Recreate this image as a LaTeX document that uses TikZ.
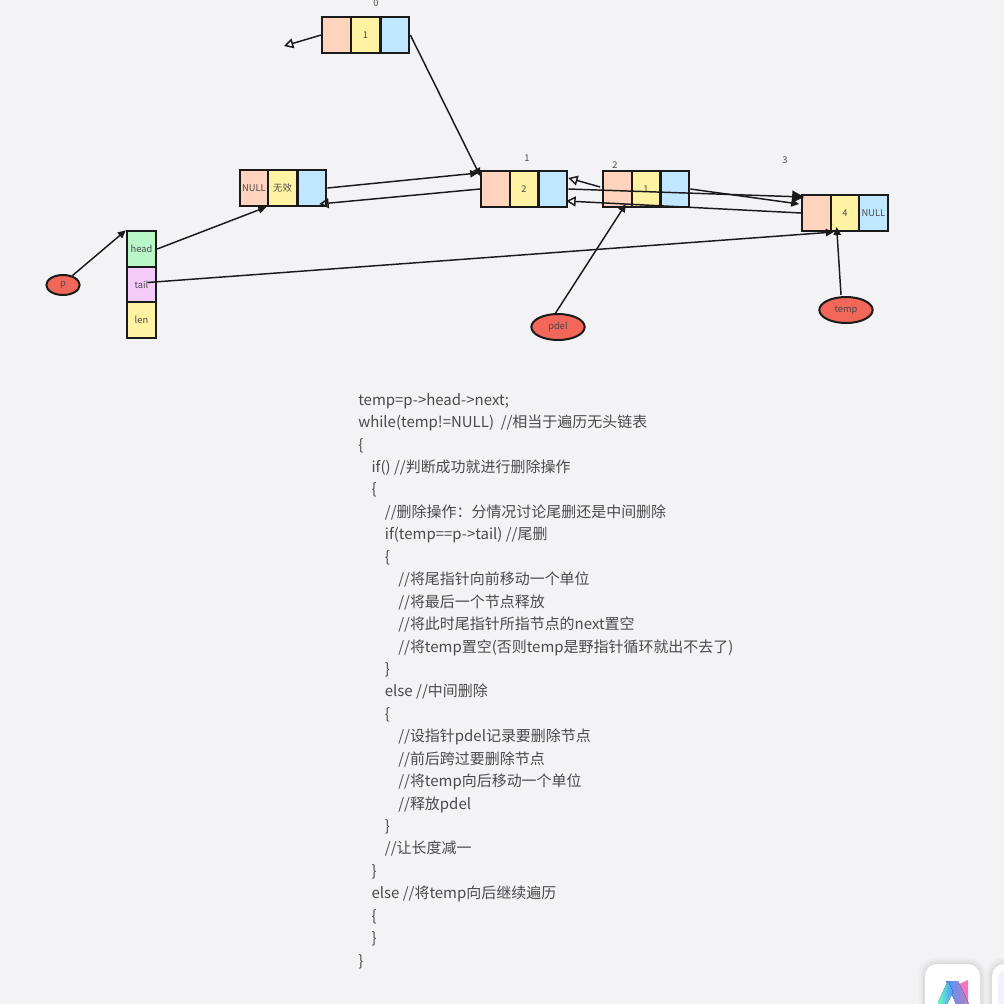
\documentclass[tikz,border=0pt]{standalone}
\usepackage{fontspec}
\setmainfont{Noto Sans CJK SC}
\usetikzlibrary{arrows.meta,calc,shapes.geometric}
\definecolor{bgc}{HTML}{F3F3F6}
\definecolor{peach}{HTML}{FFD3BC}
\definecolor{lem}{HTML}{FFF3A3}
\definecolor{sky}{HTML}{BFE7FF}
\definecolor{mint}{HTML}{B9F7C8}
\definecolor{lilac}{HTML}{F5CBF9}
\definecolor{redc}{HTML}{F2675A}
\definecolor{ink}{HTML}{1A1A1A}
\definecolor{txt}{HTML}{4A4A4A}
\tikzset{
  x=0.75pt,y=-0.75pt,
  cell/.style={draw=ink,line width=1.5pt,minimum height=27pt,minimum width=21.5pt,inner sep=0pt,text=txt,font=\fontsize{7pt}{8pt}\selectfont},
  scell/.style={cell,minimum width=22pt,minimum height=26.5pt},
  oval/.style={ellipse,draw=ink,line width=1.5pt,fill=redc,inner sep=0pt,text=txt,font=\fontsize{7pt}{8pt}\selectfont},
  idx/.style={text=txt,inner sep=0pt,font=\fontsize{7pt}{8pt}\selectfont},
  solidarrow/.style={draw=ink,line width=1.1pt,-{Triangle[length=6pt,width=5.5pt]}},
  bigarrow/.style={draw=ink,line width=1.1pt,-{Triangle[length=9pt,width=9pt]}},
  openarrow/.style={draw=ink,line width=1.1pt,-{Triangle[open,length=7pt,width=7.5pt,line width=1.1pt]}},
}
\begin{document}
\begin{tikzpicture}
\useasboundingbox (0,0) rectangle (1004,1004);
\fill[bgc] (0,0) rectangle (1004,1004);

% watermark tiles
\begin{scope}
\clip (0,0) rectangle (1004,1004);
\foreach \k/\a in {6/8,4/10,2/12}{
  \fill[black,opacity=0.012*\a/4,rounded corners=12pt] (925-\k,964-\k) rectangle (980+\k,1020);
  \fill[black,opacity=0.012*\a/4,rounded corners=12pt] (992-\k,964-\k) rectangle (1040,1020);
}
\fill[white,rounded corners=9pt] (925,964) rectangle (980,1020);
\fill[white,rounded corners=9pt] (992,964) rectangle (1040,1020);
\fill[blue!6,rounded corners=6pt] (998,970) rectangle (1040,1020);
\fill[magenta!55] (957,985) -- (968,980) -- (968,1002) -- (963,1002) -- cycle;
\fill[left color=blue!60!cyan!70,right color=violet!50] (946,981) -- (958,981) -- (969,1004) -- (956,1004) -- cycle;
\fill[left color=cyan!60!green!60,right color=blue!60!cyan!70] (938,1002) -- (948,981) -- (953,992) -- (947,1004) -- (938,1004) -- cycle;
\end{scope}

% nodes
\node[cell,fill=peach] (ta) at (336.5,35) {};
\node[cell,fill=lem] (tb) at (365.5,35) {1};
\node[cell,fill=sky] (tc) at (395,35) {};
\node[idx] (l0) at (376,3) {0};

\node[cell,fill=peach] (ha) at (254,188) {NULL};
\node[cell,fill=lem] (hb) at (282.5,188) {无效};
\node[cell,fill=sky] (hc) at (312,188) {};

\node[cell,fill=peach] (na) at (495.5,189) {};
\node[cell,fill=lem] (nb) at (524,189) {2};
\node[cell,fill=sky] (nc) at (553,189) {};
\node[idx] (l1) at (527,158) {1};

\node[cell,fill=peach] (ma) at (617.5,189) {};
\node[cell,fill=lem] (mb) at (646,189) {1};
\node[cell,fill=sky] (mc) at (675,189) {};
\node[idx] (l2) at (615,165) {2};

\node[cell,fill=peach] (ra) at (816.5,213) {};
\node[cell,fill=lem] (rb) at (845,213) {4};
\node[cell,fill=sky] (rc) at (873.5,213) {NULL};
\node[idx] (l3) at (785,160) {3};

\node[scell,fill=mint] (shead) at (141.5,249) {head};
\node[scell,fill=lilac] (stail) at (141.5,284.5) {tail};
\node[scell,fill=lem] (slen) at (141.5,320) {len};

\node[oval,minimum width=25pt,minimum height=15pt] (p) at (63,285) {p};
\node[oval,minimum width=40pt,minimum height=19.5pt] (pdel) at (558,327) {pdel};
\node[oval,minimum width=40pt,minimum height=19.5pt] (temp) at (846,310) {temp};

\coordinate (free) at (284,46);

% connectors
\draw[openarrow] (ta.west) -- (free);
\draw[solidarrow] (tc.east) -- ($(na.north west)+(0,6)$);
\draw[solidarrow] (hc.east) -- ($(na.north west)+(-2,3)$);
\draw[openarrow] (na.west) -- ($(hc.south east)+(-8,-3)$);
\draw[bigarrow] (nc.east) -- ($(ra.north west)+(3,3)$);
\draw[openarrow] ($(ma.west)+(-2,-2)$) -- ($(nc.north east)+(0,8)$);
\draw[openarrow] (ra.west) -- ($(nc.south east)+(-2,-7)$);
\draw[solidarrow] (mc.east) -- ($(ra.west)+(-2,-9)$);
\draw[solidarrow] (shead.east) -- ($(ha.south east)+(-3,0)$);
\draw[solidarrow] ($(stail.center)+(6,-2)$) -- ($(ra.south east)+(2,0)$);
\draw[solidarrow] (p.45) -- (shead.north west);
\draw[solidarrow] (pdel.100) -- ($(ma.south east)+(-7,-4)$);
\draw[solidarrow] (temp.north) ++(-5,-1) -- ($(rb.south west)+(7,-5)$);

% code
\node[anchor=north west,inner sep=0pt,align=left,text=txt,font=\fontsize{11.23pt}{16.83pt}\selectfont] (code) at (358,393) {%
temp=p->head->next;\\
while(temp!=NULL)\ \ //相当于遍历无头链表\\
\{\\
\hspace*{10pt}if() //判断成功就进行删除操作\\
\hspace*{10pt}\{\\
\hspace*{20pt}//删除操作：分情况讨论尾删还是中间删除\\
\hspace*{20pt}if(temp==p->tail) //尾删\\
\hspace*{20pt}\{\\
\hspace*{30pt}//将尾指针向前移动一个单位\\
\hspace*{30pt}//将最后一个节点释放\\
\hspace*{30pt}//将此时尾指针所指节点的next置空\\
\hspace*{30pt}//将temp置空(否则temp是野指针循环就出不去了)\\
\hspace*{20pt}\}\\
\hspace*{20pt}else //中间删除\\
\hspace*{20pt}\{\\
\hspace*{30pt}//设指针pdel记录要删除节点\\
\hspace*{30pt}//前后跨过要删除节点\\
\hspace*{30pt}//将temp向后移动一个单位\\
\hspace*{30pt}//释放pdel\\
\hspace*{20pt}\}\\
\hspace*{20pt}//让长度减一\\
\hspace*{10pt}\}\\
\hspace*{10pt}else //将temp向后继续遍历\\
\hspace*{10pt}\{\\
\hspace*{10pt}\}\\
\}};
\end{tikzpicture}
\end{document}
